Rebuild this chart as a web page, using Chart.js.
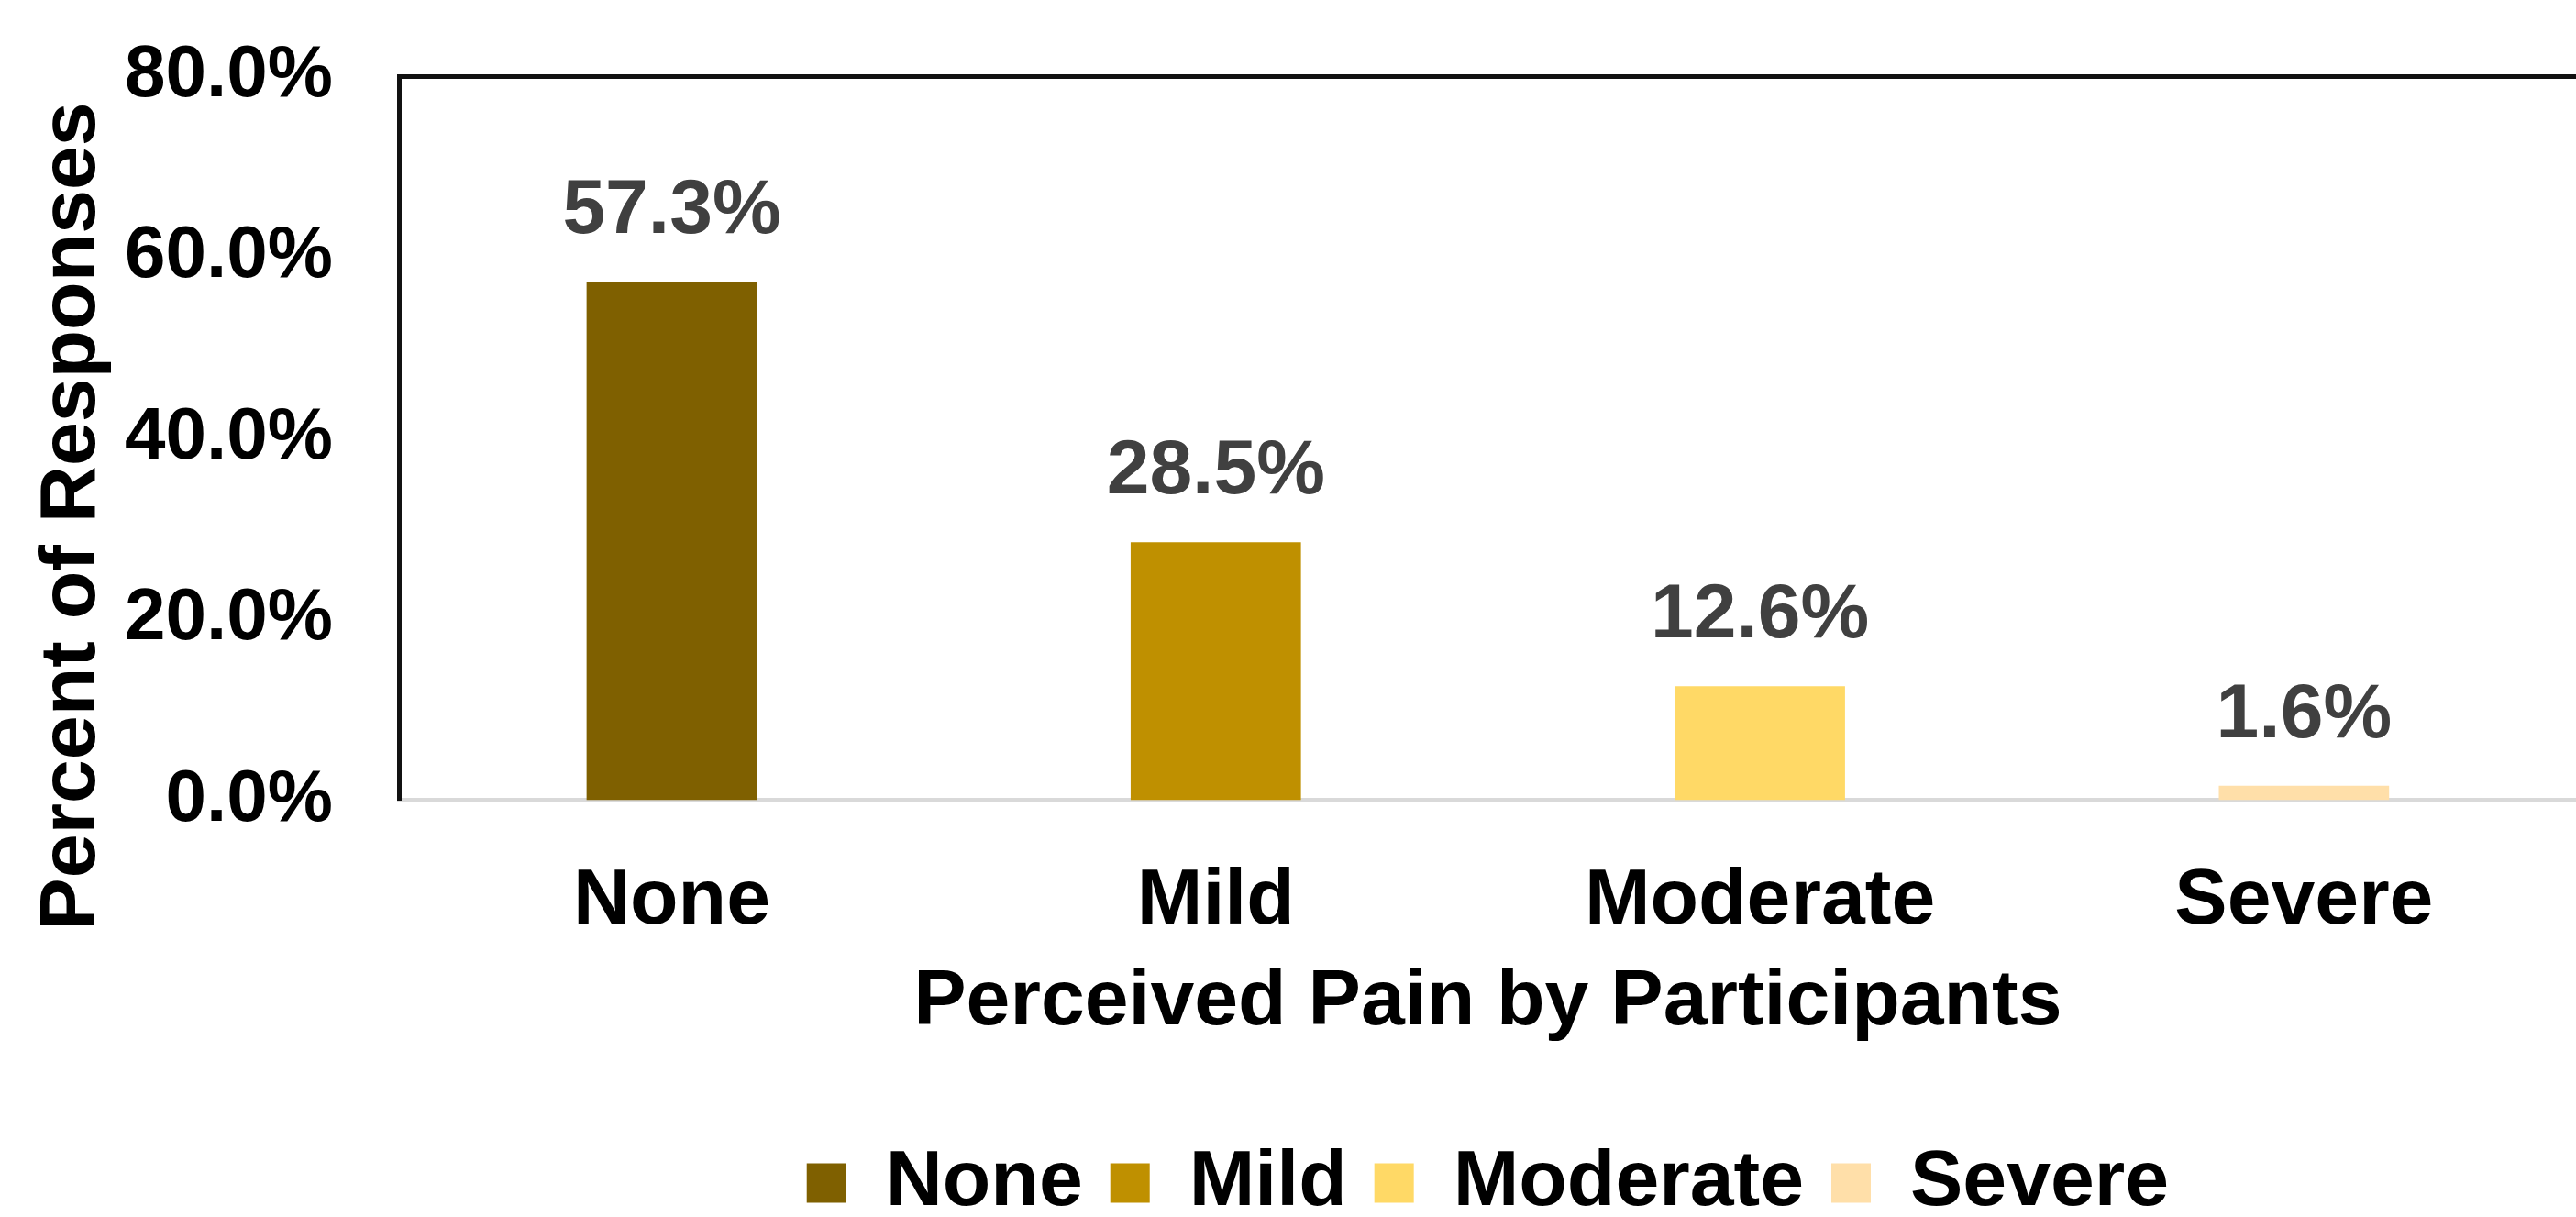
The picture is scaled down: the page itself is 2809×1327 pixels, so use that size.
<!DOCTYPE html>
<html>
<head>
<meta charset="utf-8">
<script src="https://cdn.jsdelivr.net/npm/chart.js@4.4.1/dist/chart.umd.min.js"></script>
<style>
  html, body { margin: 0; padding: 0; background: #fff; overflow: hidden; }
  #wrap { width: 2809px; height: 1327px; }
</style>
</head>
<body>
<div id="wrap"><canvas id="painChart"></canvas></div>
<script>
const categories = ["None", "Mild", "Moderate", "Severe"];
const percentValues = [57.3, 28.5, 12.6, 1.6];
const barColors = ["#7F6000", "#BF9000", "#FFD966", "#FFDFA9"];
const yTickValues = [0, 20, 40, 60, 80];
const yTitle = "Percent of Responses";
const xTitle = "Perceived Pain by Participants";

Chart.defaults.font.family = "'Liberation Sans', Arial, sans-serif";
Chart.defaults.font.weight = "bold";
Chart.defaults.color = "#000";

// value labels above each bar
const barLabels = {
  id: "barLabels",
  afterDatasetsDraw(chart) {
    const ctx = chart.ctx;
    const meta = chart.getDatasetMeta(0);
    ctx.save();
    ctx.font = "bold 84px 'Liberation Sans', Arial, sans-serif";
    ctx.fillStyle = "#404040";
    ctx.textAlign = "center";
    ctx.textBaseline = "middle";
    meta.data.forEach((bar, i) => {
      ctx.fillText(percentValues[i].toFixed(1) + "%", bar.x, bar.y - 76);
    });
    ctx.restore();
  },
};

// y axis title, sits lower than the plot centre in the original
const yAxisTitle = {
  id: "yAxisTitle",
  afterDraw(chart) {
    const ctx = chart.ctx;
    ctx.save();
    ctx.font = "bold 86px 'Liberation Sans', Arial, sans-serif";
    ctx.fillStyle = "#000";
    ctx.textAlign = "center";
    ctx.textBaseline = "alphabetic";
    ctx.translate(103, 563);
    ctx.rotate(-Math.PI / 2);
    ctx.fillText(yTitle, 0, 0);
    ctx.restore();
  },
};

new Chart(document.getElementById("painChart"), {
  type: "bar",
  data: {
    labels: categories,
    datasets: [
      {
        label: "Percent of Responses",
        data: percentValues,
        backgroundColor: barColors,
        borderWidth: 0,
        categoryPercentage: 1,
        barPercentage: 0.313,
      },
    ],
  },
  options: {
    responsive: true,
    maintainAspectRatio: false,
    animation: false,
    layout: {
      padding: { top: 83, left: 63, right: -17, bottom: -16 },
    },
    plugins: {
      tooltip: { enabled: false },
      legend: {
        display: true,
        position: "bottom",
        fullSize: false,
        labels: {
          font: { size: 86, weight: "bold" },
          color: "#000",
          boxWidth: 43,
          boxHeight: 43,
          padding: 30,
          generateLabels: () =>
            categories.map((c, i) => ({
              text: c,
              fillStyle: barColors[i],
              strokeStyle: barColors[i],
              lineWidth: 0,
              hidden: false,
              index: i,
            })),
        },
      },
    },
    scales: {
      x: {
        grid: { display: false, drawTicks: false },
        border: { display: true, color: "#D9D9D9", width: 5 },
        ticks: {
          font: { size: 86, weight: "bold" },
          color: "#000",
          padding: 59,
        },
        title: {
          display: true,
          text: xTitle,
          font: { size: 86, weight: "bold" },
          color: "#000",
          padding: { top: -52, bottom: 72 },
        },
      },
      xTop: {
        type: "category",
        position: "top",
        grid: { display: false, drawTicks: false },
        border: { display: true, color: "#111", width: 5 },
        ticks: { display: false },
      },
      y: {
        min: 0,
        max: 80,
        afterBuildTicks: (axis) => {
          axis.ticks = yTickValues.map((v) => ({ value: v }));
        },
        grid: { display: false, drawTicks: false },
        border: { display: true, color: "#111", width: 5 },
        ticks: {
          font: { size: 80, weight: "bold", lineHeight: 0.2 },
          color: "#000",
          padding: 73,
          callback: (v) => v.toFixed(1) + "%",
        },
      },
    },
  },
  plugins: [barLabels, yAxisTitle],
});
</script>
</body>
</html>
